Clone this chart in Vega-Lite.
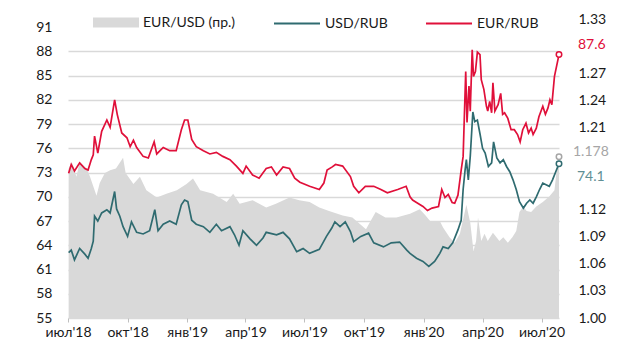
{
  "$schema": "https://vega.github.io/schema/vega-lite/v6.json",
  "width": 491,
  "height": 299,
  "autosize": {"type": "none"},
  "padding": {"left": 68, "top": 19, "right": 62, "bottom": 38},
  "background": "white",
  "config": {
    "font": "Lato",
    "view": {"stroke": null},
    "axis": {"labelFont": "Lato", "labelFontSize": 14, "labelColor": "#1a1a1a", "title": null}
  },
  "datasets": {
    "usd": [
      {"d":"2018-07-02","v":63.1},{"d":"2018-07-06","v":63.4},{"d":"2018-07-11","v":62.2},{"d":"2018-07-19","v":63.6},{"d":"2018-07-27","v":62.9},{"d":"2018-08-01","v":62.4},{"d":"2018-08-06","v":63.6},{"d":"2018-08-09","v":64.5},{"d":"2018-08-11","v":67.6},{"d":"2018-08-16","v":67.0},{"d":"2018-08-22","v":68.0},{"d":"2018-08-30","v":68.4},{"d":"2018-09-04","v":68.0},{"d":"2018-09-11","v":70.65},{"d":"2018-09-14","v":68.5},{"d":"2018-09-19","v":67.6},{"d":"2018-09-24","v":66.3},{"d":"2018-10-01","v":65.1},{"d":"2018-10-07","v":66.9},{"d":"2018-10-15","v":65.6},{"d":"2018-10-25","v":65.4},{"d":"2018-11-04","v":65.8},{"d":"2018-11-12","v":68.4},{"d":"2018-11-17","v":65.8},{"d":"2018-11-25","v":66.6},{"d":"2018-12-05","v":67.0},{"d":"2018-12-15","v":66.6},{"d":"2018-12-23","v":69.0},{"d":"2018-12-28","v":69.6},{"d":"2019-01-02","v":69.4},{"d":"2019-01-08","v":67.1},{"d":"2019-01-15","v":66.6},{"d":"2019-01-26","v":66.3},{"d":"2019-02-05","v":65.6},{"d":"2019-02-15","v":66.6},{"d":"2019-02-23","v":65.8},{"d":"2019-03-08","v":66.3},{"d":"2019-03-15","v":65.3},{"d":"2019-03-22","v":64.0},{"d":"2019-03-28","v":65.8},{"d":"2019-04-08","v":64.8},{"d":"2019-04-18","v":64.0},{"d":"2019-04-28","v":64.9},{"d":"2019-05-03","v":65.6},{"d":"2019-05-19","v":65.3},{"d":"2019-05-29","v":65.6},{"d":"2019-06-08","v":64.8},{"d":"2019-06-19","v":63.2},{"d":"2019-06-24","v":63.4},{"d":"2019-06-29","v":63.6},{"d":"2019-07-09","v":63.0},{"d":"2019-07-24","v":63.5},{"d":"2019-08-04","v":65.1},{"d":"2019-08-12","v":66.1},{"d":"2019-08-17","v":66.9},{"d":"2019-08-25","v":66.3},{"d":"2019-09-02","v":66.9},{"d":"2019-09-10","v":65.7},{"d":"2019-09-15","v":64.45},{"d":"2019-09-26","v":65.1},{"d":"2019-10-08","v":65.5},{"d":"2019-10-16","v":64.3},{"d":"2019-10-31","v":63.8},{"d":"2019-11-12","v":64.3},{"d":"2019-11-25","v":64.4},{"d":"2019-12-06","v":63.4},{"d":"2019-12-11","v":63.0},{"d":"2019-12-21","v":62.4},{"d":"2019-12-31","v":62.0},{"d":"2020-01-09","v":61.4},{"d":"2020-01-18","v":62.0},{"d":"2020-01-26","v":63.0},{"d":"2020-01-31","v":63.8},{"d":"2020-02-08","v":63.6},{"d":"2020-02-15","v":64.3},{"d":"2020-02-23","v":65.9},{"d":"2020-02-28","v":67.1},{"d":"2020-03-02","v":70.9},{"d":"2020-03-05","v":73.3},{"d":"2020-03-07","v":74.6},{"d":"2020-03-10","v":72.1},{"d":"2020-03-13","v":75.0},{"d":"2020-03-17","v":80.5},{"d":"2020-03-20","v":79.3},{"d":"2020-03-24","v":79.5},{"d":"2020-03-28","v":77.8},{"d":"2020-04-01","v":76.0},{"d":"2020-04-05","v":75.4},{"d":"2020-04-10","v":73.75},{"d":"2020-04-15","v":74.2},{"d":"2020-04-18","v":76.8},{"d":"2020-04-23","v":74.8},{"d":"2020-04-28","v":74.2},{"d":"2020-05-03","v":74.6},{"d":"2020-05-08","v":73.75},{"d":"2020-05-13","v":73.1},{"d":"2020-05-18","v":72.1},{"d":"2020-05-23","v":70.9},{"d":"2020-05-28","v":69.4},{"d":"2020-06-03","v":68.6},{"d":"2020-06-08","v":69.2},{"d":"2020-06-13","v":69.6},{"d":"2020-06-18","v":69.2},{"d":"2020-06-23","v":70.0},{"d":"2020-06-28","v":70.9},{"d":"2020-07-03","v":71.7},{"d":"2020-07-08","v":71.5},{"d":"2020-07-13","v":71.3},{"d":"2020-07-18","v":72.1},{"d":"2020-07-23","v":73.1},{"d":"2020-07-28","v":74.1}
    ],
    "eur": [
      {"d":"2018-07-02","v":72.9},{"d":"2018-07-06","v":74.0},{"d":"2018-07-11","v":73.2},{"d":"2018-07-19","v":74.2},{"d":"2018-07-27","v":73.5},{"d":"2018-08-01","v":73.3},{"d":"2018-08-06","v":74.6},{"d":"2018-08-09","v":75.2},{"d":"2018-08-11","v":77.5},{"d":"2018-08-16","v":75.4},{"d":"2018-08-22","v":78.1},{"d":"2018-08-30","v":79.5},{"d":"2018-09-04","v":78.6},{"d":"2018-09-11","v":82.0},{"d":"2018-09-15","v":80.2},{"d":"2018-09-22","v":77.9},{"d":"2018-09-30","v":77.3},{"d":"2018-10-05","v":76.2},{"d":"2018-10-10","v":77.0},{"d":"2018-10-15","v":76.1},{"d":"2018-10-25","v":75.0},{"d":"2018-11-02","v":74.8},{"d":"2018-11-11","v":76.8},{"d":"2018-11-15","v":75.3},{"d":"2018-11-25","v":76.1},{"d":"2018-12-05","v":75.7},{"d":"2018-12-15","v":75.7},{"d":"2018-12-23","v":78.3},{"d":"2018-12-28","v":79.5},{"d":"2019-01-02","v":79.5},{"d":"2019-01-08","v":77.1},{"d":"2019-01-15","v":76.2},{"d":"2019-01-26","v":75.7},{"d":"2019-02-05","v":75.3},{"d":"2019-02-15","v":75.5},{"d":"2019-02-25","v":75.0},{"d":"2019-03-08","v":74.6},{"d":"2019-03-18","v":73.8},{"d":"2019-03-28","v":72.9},{"d":"2019-04-02","v":73.8},{"d":"2019-04-12","v":72.7},{"d":"2019-04-22","v":72.3},{"d":"2019-05-03","v":73.5},{"d":"2019-05-11","v":73.7},{"d":"2019-05-19","v":72.7},{"d":"2019-05-29","v":73.7},{"d":"2019-06-08","v":73.5},{"d":"2019-06-16","v":72.3},{"d":"2019-06-24","v":71.8},{"d":"2019-07-09","v":71.3},{"d":"2019-07-24","v":70.9},{"d":"2019-07-31","v":71.7},{"d":"2019-08-05","v":73.3},{"d":"2019-08-13","v":73.7},{"d":"2019-08-18","v":74.0},{"d":"2019-08-29","v":73.8},{"d":"2019-09-10","v":72.5},{"d":"2019-09-15","v":71.3},{"d":"2019-09-23","v":70.5},{"d":"2019-10-03","v":71.3},{"d":"2019-10-16","v":71.3},{"d":"2019-10-27","v":70.9},{"d":"2019-11-06","v":70.5},{"d":"2019-11-22","v":70.9},{"d":"2019-12-05","v":71.3},{"d":"2019-12-11","v":70.0},{"d":"2019-12-15","v":69.6},{"d":"2019-12-21","v":69.3},{"d":"2019-12-31","v":68.8},{"d":"2020-01-07","v":68.3},{"d":"2020-01-14","v":68.6},{"d":"2020-01-24","v":68.8},{"d":"2020-01-29","v":70.9},{"d":"2020-02-03","v":69.9},{"d":"2020-02-08","v":70.3},{"d":"2020-02-14","v":69.3},{"d":"2020-02-18","v":69.2},{"d":"2020-02-23","v":70.2},{"d":"2020-02-28","v":73.3},{"d":"2020-03-02","v":75.0},{"d":"2020-03-06","v":85.5},{"d":"2020-03-08","v":79.2},{"d":"2020-03-11","v":83.7},{"d":"2020-03-13","v":80.6},{"d":"2020-03-16","v":88.2},{"d":"2020-03-18","v":84.9},{"d":"2020-03-21","v":85.5},{"d":"2020-03-24","v":87.9},{"d":"2020-03-28","v":87.6},{"d":"2020-03-30","v":84.5},{"d":"2020-04-03","v":83.3},{"d":"2020-04-07","v":81.2},{"d":"2020-04-09","v":80.6},{"d":"2020-04-12","v":81.8},{"d":"2020-04-15","v":80.4},{"d":"2020-04-17","v":84.1},{"d":"2020-04-20","v":80.6},{"d":"2020-04-25","v":81.4},{"d":"2020-04-29","v":82.8},{"d":"2020-05-02","v":80.2},{"d":"2020-05-05","v":80.4},{"d":"2020-05-10","v":79.7},{"d":"2020-05-15","v":78.3},{"d":"2020-05-20","v":78.3},{"d":"2020-05-25","v":77.7},{"d":"2020-05-29","v":76.8},{"d":"2020-06-02","v":78.3},{"d":"2020-06-07","v":79.1},{"d":"2020-06-11","v":77.9},{"d":"2020-06-15","v":78.5},{"d":"2020-06-18","v":77.7},{"d":"2020-06-23","v":78.5},{"d":"2020-06-27","v":79.9},{"d":"2020-07-03","v":81.2},{"d":"2020-07-07","v":80.2},{"d":"2020-07-11","v":81.0},{"d":"2020-07-14","v":82.0},{"d":"2020-07-17","v":81.4},{"d":"2020-07-21","v":84.9},{"d":"2020-07-28","v":87.6}
    ],
    "eurusd": [
      {"d":"2018-07-02","v":1.165},{"d":"2018-07-07","v":1.172},{"d":"2018-07-14","v":1.156},{"d":"2018-07-19","v":1.172},{"d":"2018-07-30","v":1.165},{"d":"2018-08-04","v":1.156},{"d":"2018-08-14","v":1.135},{"d":"2018-08-19","v":1.149},{"d":"2018-08-27","v":1.160},{"d":"2018-09-04","v":1.163},{"d":"2018-09-13","v":1.165},{"d":"2018-09-24","v":1.177},{"d":"2018-09-28","v":1.160},{"d":"2018-10-10","v":1.148},{"d":"2018-10-20","v":1.156},{"d":"2018-10-30","v":1.141},{"d":"2018-11-15","v":1.133},{"d":"2018-11-30","v":1.137},{"d":"2018-12-16","v":1.141},{"d":"2018-12-31","v":1.148},{"d":"2019-01-10","v":1.154},{"d":"2019-01-21","v":1.141},{"d":"2019-02-10","v":1.137},{"d":"2019-03-03","v":1.128},{"d":"2019-03-13","v":1.137},{"d":"2019-03-23","v":1.126},{"d":"2019-04-12","v":1.130},{"d":"2019-05-03","v":1.122},{"d":"2019-05-18","v":1.126},{"d":"2019-06-08","v":1.133},{"d":"2019-06-23","v":1.130},{"d":"2019-07-09","v":1.128},{"d":"2019-07-24","v":1.122},{"d":"2019-08-08","v":1.118},{"d":"2019-08-29","v":1.113},{"d":"2019-09-13","v":1.111},{"d":"2019-10-04","v":1.098},{"d":"2019-10-19","v":1.117},{"d":"2019-11-03","v":1.111},{"d":"2019-11-20","v":1.111},{"d":"2019-12-11","v":1.115},{"d":"2019-12-26","v":1.120},{"d":"2020-01-03","v":1.114},{"d":"2020-01-11","v":1.107},{"d":"2020-01-26","v":1.107},{"d":"2020-01-31","v":1.100},{"d":"2020-02-10","v":1.089},{"d":"2020-02-18","v":1.083},{"d":"2020-02-26","v":1.093},{"d":"2020-03-02","v":1.109},{"d":"2020-03-07","v":1.125},{"d":"2020-03-13","v":1.105},{"d":"2020-03-18","v":1.074},{"d":"2020-03-22","v":1.085},{"d":"2020-03-25","v":1.111},{"d":"2020-03-30","v":1.085},{"d":"2020-04-04","v":1.093},{"d":"2020-04-09","v":1.085},{"d":"2020-04-17","v":1.094},{"d":"2020-04-27","v":1.085},{"d":"2020-05-03","v":1.089},{"d":"2020-05-10","v":1.083},{"d":"2020-05-17","v":1.089},{"d":"2020-05-23","v":1.096},{"d":"2020-05-28","v":1.117},{"d":"2020-06-03","v":1.123},{"d":"2020-06-08","v":1.118},{"d":"2020-06-15","v":1.117},{"d":"2020-06-23","v":1.123},{"d":"2020-07-03","v":1.128},{"d":"2020-07-13","v":1.134},{"d":"2020-07-21","v":1.141},{"d":"2020-07-24","v":1.160},{"d":"2020-07-28","v":1.178}
    ]
  },
  "encoding": {
    "x": {
      "field": "d",
      "type": "temporal",
      "scale": {"type": "utc", "domain": [{"year": 2018, "month": 7, "date": 1, "utc": true}, {"year": 2020, "month": 7, "date": 28, "utc": true}]},
      "axis": {
        "values": [
          {"year": 2018, "month": 7, "date": 1, "utc": true},
          {"year": 2018, "month": 10, "date": 1, "utc": true},
          {"year": 2019, "month": 1, "date": 1, "utc": true},
          {"year": 2019, "month": 4, "date": 1, "utc": true},
          {"year": 2019, "month": 7, "date": 1, "utc": true},
          {"year": 2019, "month": 10, "date": 1, "utc": true},
          {"year": 2020, "month": 1, "date": 1, "utc": true},
          {"year": 2020, "month": 4, "date": 1, "utc": true},
          {"year": 2020, "month": 7, "date": 1, "utc": true}
        ],
        "labelExpr": "['янв','фев','мар','апр','май','июн','июл','авг','сен','окт','ноя','дек'][utcmonth(datum.value)] + \"'\" + utcFormat(datum.value, '%y')",
        "domain": false,
        "grid": false,
        "ticks": true,
        "tickSize": 4,
        "tickColor": "#bfbfbf",
        "labelPadding": 3,
        "labelFlush": false,
        "labelOverlap": false,
        "title": null
      }
    }
  },
  "layer": [
    {
      "encoding": {
        "y": {
          "field": "v",
          "type": "quantitative",
          "scale": {"domain": [1.0, 1.33], "zero": false, "nice": false},
          "axis": {
            "orient": "right",
            "values": [1.0, 1.03, 1.06, 1.09, 1.12, 1.21, 1.24, 1.27, 1.33],
            "format": ".2f",
            "domain": false,
            "ticks": false,
            "tickSize": 0,
            "grid": false,
            "labelPadding": 19,
            "title": null
          }
        }
      },
      "layer": [
        {
          "data": {"name": "eurusd"},
          "mark": {"type": "area", "opacity": 1},
          "encoding": {
            "y2": {"datum": 1.0},
            "fill": {
              "datum": "EUR/USD (пр.)",
              "scale": {"domain": ["EUR/USD (пр.)"], "range": ["#d9d9d9"]},
              "legend": {
                "orient": "none",
                "legendX": 25,
                "legendY": -19.5,
                "direction": "horizontal",
                "title": null,
                "padding": 0,
                "symbolSize": 2116,
                "symbolType": "M-1,-0.22H1V0.22H-1Z",
                "symbolStrokeWidth": 0,
                "symbolOpacity": 1,
                "labelFont": "Lato",
                "labelFontSize": 14,
                "labelColor": "#1a1a1a",
                "labelOffset": 4,
                "labelLimit": 300
              }
            }
          }
        },
        {
          "data": {"values": [{"d": "2020-07-28", "v": 1.178}]},
          "mark": {"type": "point", "filled": true, "fill": "white", "stroke": "#a6a6a6", "strokeWidth": 1.5, "size": 30, "opacity": 1}
        },
        {
          "data": {"values": [{"d": "2020-07-28", "v": 1.178}]},
          "mark": {"type": "text", "align": "left", "baseline": "middle", "dx": 14, "dy": -5, "font": "Lato", "fontSize": 14, "color": "#a6a6a6"},
          "encoding": {"text": {"field": "v", "type": "quantitative", "format": ".3f"}}
        }
      ]
    },
    {
      "encoding": {
        "y": {
          "field": "v",
          "type": "quantitative",
          "scale": {"domain": [55, 92], "zero": false, "nice": false},
          "axis": {
            "orient": "left",
            "values": [55, 58, 61, 64, 67, 70, 73, 76, 79, 82, 85, 88, 91],
            "domain": false,
            "ticks": false,
            "tickSize": 0,
            "grid": true,
            "gridColor": "#d9d9d9",
            "gridWidth": 1.5,
            "gridOpacity": {"condition": {"test": "datum.value >= 91", "value": 0}, "value": 1},
            "labelPadding": 16,
            "title": null
          }
        }
      },
      "layer": [
        {
          "data": {"name": "usd"},
          "mark": {"type": "line", "strokeWidth": 1.7},
          "encoding": {
            "stroke": {
              "datum": "USD/RUB",
              "scale": {"domain": ["USD/RUB", "EUR/RUB"], "range": ["#2f6b70", "#e0103a"]},
              "legend": {
                "orient": "none",
                "legendX": 205,
                "legendY": -19.5,
                "direction": "horizontal",
                "title": null,
                "padding": 0,
                "symbolSize": 2116,
                "symbolType": "stroke",
                "symbolStrokeWidth": 2,
                "symbolOpacity": 1,
                "labelFont": "Lato",
                "labelFontSize": 14,
                "labelColor": "#1a1a1a",
                "labelOffset": 4,
                "columnPadding": 34,
                "labelLimit": 300
              }
            }
          }
        },
        {
          "data": {"name": "eur"},
          "mark": {"type": "line", "strokeWidth": 1.7},
          "encoding": {"stroke": {"datum": "EUR/RUB"}}
        },
        {
          "data": {"values": [{"d": "2020-07-28", "v": 74.1}]},
          "mark": {"type": "point", "filled": true, "fill": "white", "stroke": "#2f6b70", "strokeWidth": 1.5, "size": 30, "opacity": 1}
        },
        {
          "data": {"values": [{"d": "2020-07-28", "v": 87.6}]},
          "mark": {"type": "point", "filled": true, "fill": "white", "stroke": "#e0103a", "strokeWidth": 1.5, "size": 30, "opacity": 1}
        },
        {
          "data": {"values": [{"d": "2020-07-28", "v": 74.1}]},
          "mark": {"type": "text", "align": "left", "baseline": "middle", "dx": 18, "dy": 13, "font": "Lato", "fontSize": 14, "color": "#5f8f94"},
          "encoding": {"text": {"field": "v", "type": "quantitative", "format": ".1f"}}
        },
        {
          "data": {"values": [{"d": "2020-07-28", "v": 87.6}]},
          "mark": {"type": "text", "align": "left", "baseline": "middle", "dx": 19, "dy": -10, "font": "Lato", "fontSize": 14, "color": "#e0103a"},
          "encoding": {"text": {"field": "v", "type": "quantitative", "format": ".1f"}}
        }
      ]
    }
  ],
  "resolve": {"scale": {"y": "independent"}}
}
